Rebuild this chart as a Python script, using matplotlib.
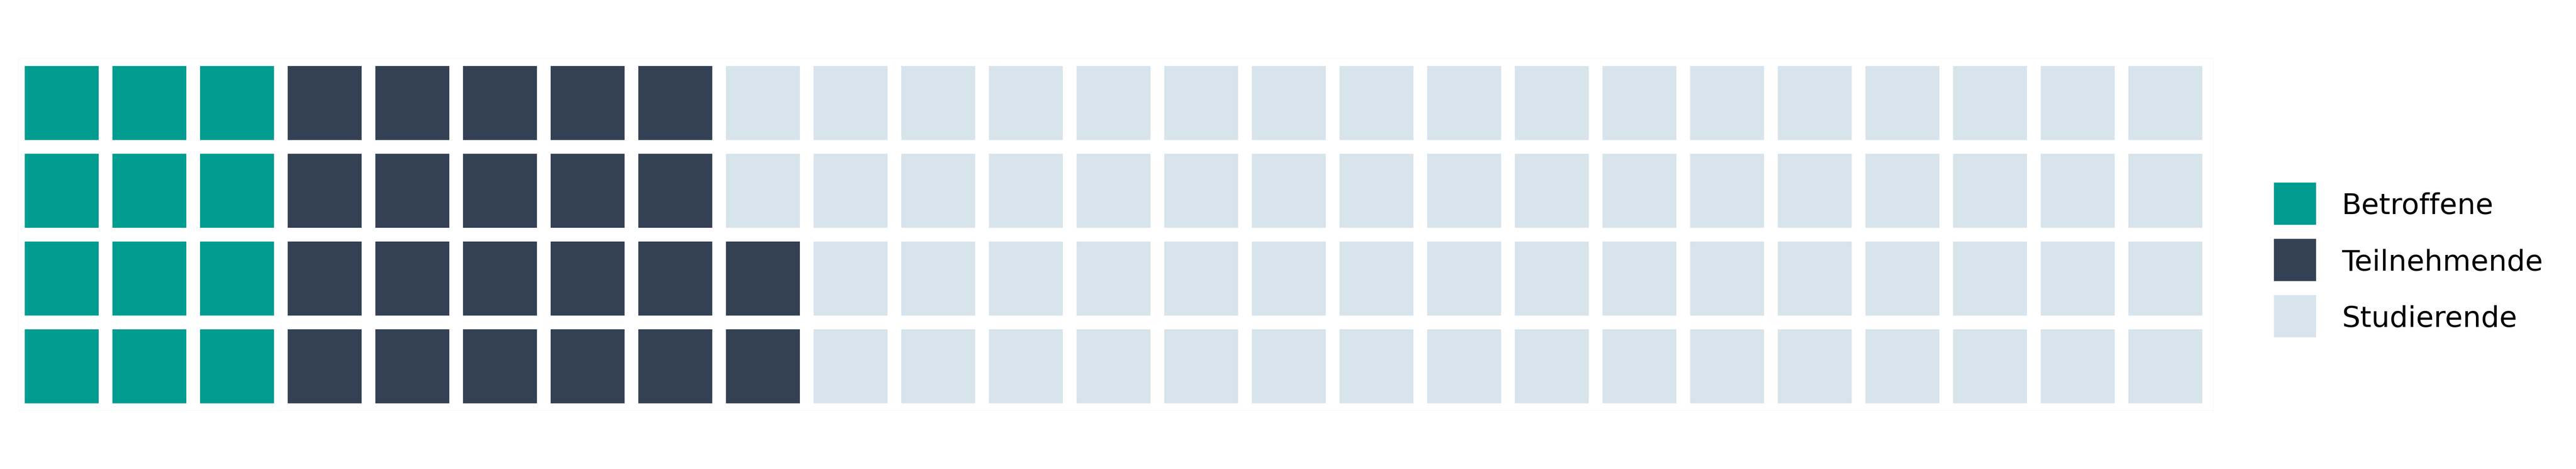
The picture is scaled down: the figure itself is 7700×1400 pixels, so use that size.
import matplotlib
matplotlib.use("Agg")
import matplotlib.pyplot as plt
from matplotlib.patches import Rectangle

# Data
categories = ["Betroffene", "Teilnehmende", "Studierende"]
values = [12, 22, 66]
colors = ["#009c90", "#344154", "#d8e4ec"]
n_rows = 4
n_cols = 25

W, H = 7700, 1400
fig = plt.figure(figsize=(W / 100, H / 100), dpi=100)
fig.patch.set_facecolor("white")

# axes placement (pixel-based)
ax_left, ax_right, ax_top, ax_bottom = 54, 6616, 174, 1225
ax = fig.add_axes([ax_left / W, 1 - ax_bottom / H, (ax_right - ax_left) / W, (ax_bottom - ax_top) / H])

pitch = 262.0
cell = 221.0 / pitch
x0 = -(74 - ax_left) / pitch
ax.set_xlim(x0, x0 + (ax_right - ax_left) / pitch)
y0 = -(ax_bottom - 1204) / pitch
ax.set_ylim(y0, y0 + (ax_bottom - ax_top) / pitch)

# category index per cell (column-major from bottom-left)
cell_cats = []
for ci, v in enumerate(values):
    cell_cats += [ci] * v

for k, ci in enumerate(cell_cats):
    col = k // n_rows
    row = k % n_rows
    ax.add_patch(Rectangle((col, row), cell, cell, facecolor=colors[ci], edgecolor="none"))

ax.set_xticks([])
ax.set_yticks([])
for s in ax.spines.values():
    s.set_color("#f3f6f6")
    s.set_linewidth(1)

# Legend (drawn in figure pixel coordinates)
leg_x, leg_top, leg_size, leg_pitch = 6797, 545, 126, 168
text_x = 7000
for i, (lab, c) in enumerate(zip(categories, colors)):
    top = leg_top + i * leg_pitch
    fig.add_artist(Rectangle((leg_x / W, 1 - (top + leg_size) / H), leg_size / W, leg_size / H,
                             transform=fig.transFigure, facecolor=c, edgecolor="none"))
    fig.text(text_x / W, 1 - (top + 94) / H, lab, fontsize=62, va="baseline", ha="left",
             color="black")

fig.savefig("out.png", dpi=100, facecolor="white")
